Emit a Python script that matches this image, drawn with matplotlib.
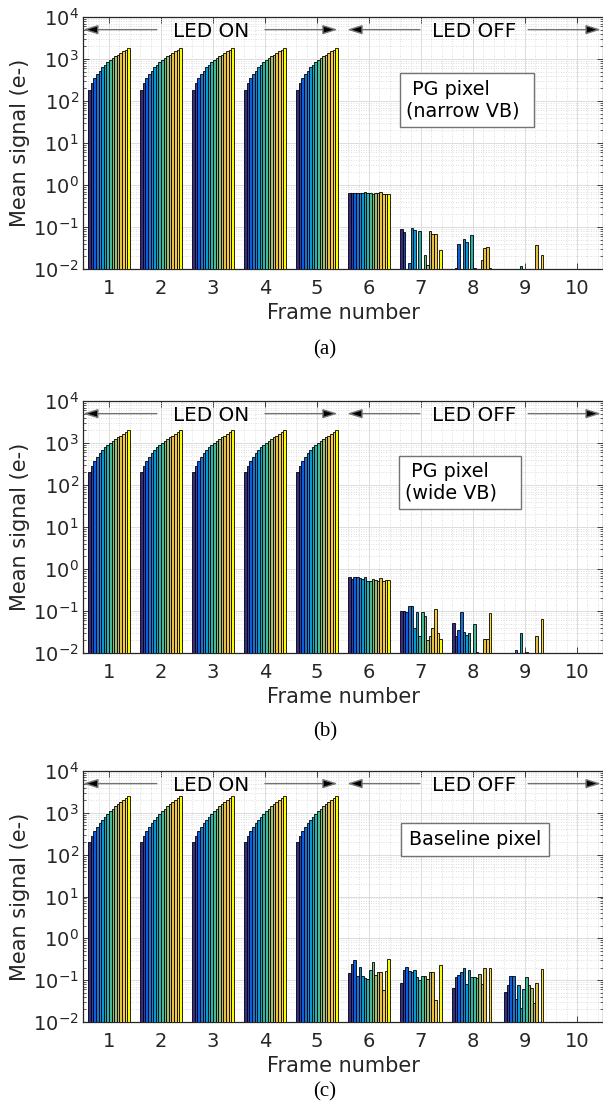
import numpy as np
import matplotlib
matplotlib.use("Agg")
import matplotlib.pyplot as plt
from matplotlib.colors import LinearSegmentedColormap
from matplotlib.patches import Rectangle
from matplotlib.ticker import LogLocator, MultipleLocator, NullFormatter, FixedLocator

# ---------------------------------------------------------------- data
frames = np.arange(1, 11)
n_exposures = 16

# mean signal during the five illuminated frames (same ramp each frame)
led_on_a = [185, 265, 350, 440, 530, 630, 730, 840, 940, 1040, 1150, 1270, 1390, 1510, 1650, 1800]
led_on_b = [200, 285, 375, 470, 570, 680, 790, 900, 1010, 1120, 1240, 1370, 1500, 1650, 1820, 2000]
led_on_c = [200, 276, 360, 455, 560, 680, 810, 950, 1100, 1260, 1430, 1620, 1830, 2050, 2300, 2580]

# mean signal in frames 6..10 (LED off); 0 = nothing above the axis floor
led_off_a = [
    [0.65, 0.65, 0.64, 0.65, 0.65, 0.65, 0.68, 0.63, 0.65, 0.62, 0.66, 0.64, 0.67, 0.62, 0.60, 0.60],
    [0.091, 0.076, 0.0, 0.014, 0.093, 0.085, 0.0, 0.080, 0.0, 0.021, 0.0125, 0.080, 0.068, 0.070, 0.0, 0.028],
    [0.0, 0.0105, 0.039, 0.0102, 0.051, 0.045, 0.0, 0.063, 0.0105, 0.0, 0.0, 0.016, 0.031, 0.034, 0.0105, 0.0],
    [0.0, 0.0, 0.0, 0.0, 0.0, 0.0, 0.0115, 0.0, 0.0, 0.0, 0.0, 0.0, 0.038, 0.0, 0.022, 0.0],
    [0.0] * 16,
]
led_off_b = [
    [0.63, 0.58, 0.65, 0.66, 0.60, 0.58, 0.63, 0.53, 0.53, 0.57, 0.56, 0.52, 0.60, 0.51, 0.54, 0.56],
    [0.100, 0.102, 0.096, 0.130, 0.135, 0.040, 0.094, 0.025, 0.094, 0.076, 0.020, 0.026, 0.039, 0.110, 0.030, 0.021],
    [0.052, 0.026, 0.035, 0.093, 0.032, 0.027, 0.030, 0.0, 0.050, 0.0105, 0.0, 0.0, 0.022, 0.022, 0.088, 0.0],
    [0.0, 0.0, 0.0, 0.0, 0.012, 0.0, 0.030, 0.0, 0.0105, 0.0, 0.0, 0.0, 0.025, 0.0, 0.066, 0.0],
    [0.0] * 16,
]
led_off_c = [
    [0.148, 0.248, 0.297, 0.124, 0.206, 0.124, 0.113, 0.108, 0.172, 0.272, 0.130, 0.157, 0.160, 0.059, 0.165, 0.326],
    [0.086, 0.172, 0.202, 0.170, 0.157, 0.178, 0.119, 0.099, 0.128, 0.128, 0.108, 0.155, 0.157, 0.034, 0.0, 0.230],
    [0.065, 0.120, 0.133, 0.155, 0.200, 0.081, 0.172, 0.116, 0.120, 0.110, 0.140, 0.081, 0.200, 0.0, 0.200, 0.0],
    [0.052, 0.077, 0.128, 0.124, 0.036, 0.075, 0.022, 0.060, 0.120, 0.077, 0.065, 0.029, 0.086, 0.0, 0.180, 0.0],
    [0.0] * 16,
]

pixel_notes = [" PG pixel\n(narrow VB)", " PG pixel\n(wide VB)", "Baseline pixel"]
panel_tags = ["(a)", "(b)", "(c)"]

# ---------------------------------------------------------------- style
parula = LinearSegmentedColormap.from_list("parula", [
    (0.2081, 0.1663, 0.5292), (0.0591, 0.3598, 0.8683), (0.0779, 0.5040, 0.8384),
    (0.0231, 0.6418, 0.7913), (0.1801, 0.7177, 0.6424), (0.5300, 0.7491, 0.4661),
    (0.8185, 0.7327, 0.3498), (0.9955, 0.7861, 0.1967), (0.9763, 0.9831, 0.0538)])
bar_colors = [parula(i / (n_exposures - 1)) for i in range(n_exposures)]

axis_color = "#262626"
W, H = 603, 1113
fig = plt.figure(figsize=(W / 100, H / 100), dpi=100)

# axes boxes in pixels: (left, top, right, bottom)
ax_boxes = [(83, 17, 603, 269), (83, 401, 603, 653), (83, 771, 603, 1022)]
note_boxes = [(0.610, 0.563, 0.867, 0.778), (0.608, 0.571, 0.842, 0.782), (0.6115, 0.663, 0.896, 0.794)]
tag_y = [350, 732, 1092]

group_width = 0.8
bar_w = group_width / n_exposures
arrow_y = 5.0e3


def span_arrow(ax, x_tip, x_tail):
    ax.annotate("", xy=(x_tip, arrow_y), xytext=(x_tail, arrow_y),
                arrowprops=dict(arrowstyle="-|>,head_length=0.9,head_width=0.28",
                                mutation_scale=10, shrinkA=0, shrinkB=0,
                                lw=1.0, ec="0.45", fc="black"),
                zorder=5, annotation_clip=False)


for p, (on, off) in enumerate([(led_on_a, led_off_a), (led_on_b, led_off_b), (led_on_c, led_off_c)]):
    l, t, r, b = ax_boxes[p]
    ax = fig.add_axes([l / W, 1 - b / H, (r - l) / W, (b - t) / H])
    table = np.array([on] * 5 + off, dtype=float)  # rows: frames, cols: exposures

    for k in range(n_exposures):
        heights = table[:, k]
        keep = heights > 0
        xs = frames[keep] - group_width / 2 + bar_w * (k + 0.5)
        bottom = 1e-4
        ax.bar(xs, heights[keep] - bottom, bottom=bottom, width=bar_w,
               color=bar_colors[k], edgecolor="black", linewidth=0.6, zorder=3)

    ax.set_yscale("log")
    ax.set_ylim(1e-2, 1e4)
    ax.set_xlim(0.5, 10.5)
    ax.set_xticks(frames)
    ax.xaxis.set_minor_locator(MultipleLocator(0.2))
    ax.yaxis.set_major_locator(FixedLocator([10.0 ** e for e in range(-2, 5)]))
    ax.yaxis.set_minor_locator(LogLocator(base=10, subs=np.arange(2, 10)))
    ax.yaxis.set_minor_formatter(NullFormatter())

    ax.grid(True, which="major", color="#dcdcdc", lw=0.7, zorder=0)
    ax.grid(True, which="minor", color="#d2d2d2", lw=0.6, ls=(0, (1, 2)), zorder=0)
    ax.set_axisbelow(True)

    ax.tick_params(which="both", direction="in", top=True, right=True, colors=axis_color)
    ax.tick_params(which="major", length=4, width=0.6, labelsize=14)
    ax.tick_params(which="minor", length=2, width=0.5)
    ax.tick_params(axis="x", which="minor", length=0)
    ax.tick_params(axis="x", which="major", pad=7)
    ax.tick_params(axis="y", which="major", pad=3)
    for s in ax.spines.values():
        s.set_color(axis_color)
        s.set_linewidth(0.9)

    ax.set_xlabel("Frame number", fontsize=15, color=axis_color, labelpad=4)
    ax.set_ylabel("Mean signal (e-)", fontsize=15, color=axis_color, labelpad=2)

    # LED ON / LED OFF spans
    span_arrow(ax, 0.5, 1.92)
    span_arrow(ax, 5.40, 4.00)
    span_arrow(ax, 5.58, 6.98)
    span_arrow(ax, 10.46, 9.06)
    ax.text(2.96, arrow_y * 0.9, "LED ON", fontsize=14.3, ha="center", va="center", color="black", zorder=6)
    ax.text(8.02, arrow_y * 0.9, "LED OFF", fontsize=14.3, ha="center", va="center", color="black", zorder=6)

    # pixel type note
    x0, y0, x1, y1 = note_boxes[p]
    ax.add_patch(Rectangle((x0, y0), x1 - x0, y1 - y0, transform=ax.transAxes,
                           fc="white", ec="0.45", lw=1.0, zorder=7))
    if p < 2:
        ax.text(x0 + 0.012, (y0 + y1) / 2, pixel_notes[p], transform=ax.transAxes,
                fontsize=13.8, ha="left", va="center", linespacing=1.15, zorder=8)
    else:
        ax.text((x0 + x1) / 2, (y0 + y1) / 2, pixel_notes[p], transform=ax.transAxes,
                fontsize=13.8, ha="center", va="center", zorder=8)

    fig.text(325 / W, 1 - tag_y[p] / H, panel_tags[p], family="Liberation Serif",
             fontsize=15, ha="center", va="center")

fig.savefig("out.png", dpi=100)
